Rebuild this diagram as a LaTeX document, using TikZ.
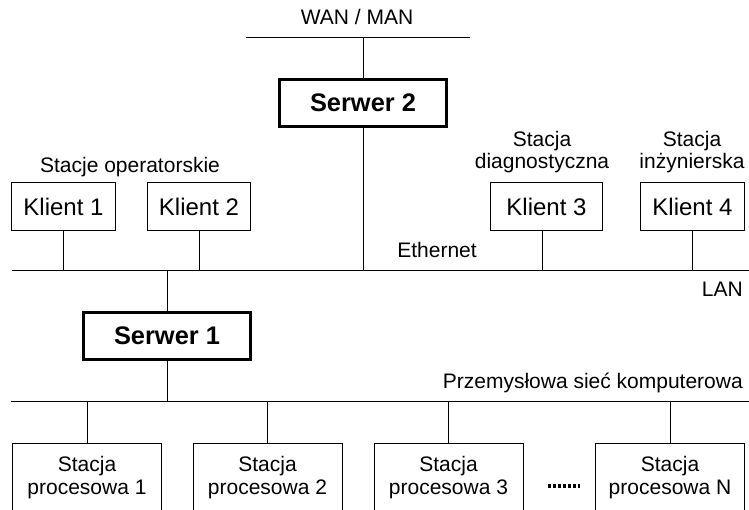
\documentclass[tikz,border=0pt]{standalone}
\usepackage{fontspec}
\setmainfont{Liberation Sans}
\begin{document}
\begin{tikzpicture}[x=1pt,y=-1pt,
  wire/.style={line width=1pt},
  srv/.style={draw, line width=2.8pt, minimum width=167pt, minimum height=47pt, inner sep=0pt, font=\fontsize{25.4}{28}\selectfont\bfseries},
  kl/.style={draw, line width=1pt, minimum height=48pt, inner sep=0pt, font=\fontsize{24}{28}\selectfont},
  proc/.style={draw, line width=1pt, minimum width=149pt, minimum height=69pt, inner sep=0pt, align=center, font=\fontsize{21}{23}\selectfont},
  lbl/.style={inner sep=0pt, font=\fontsize{21}{22}\selectfont},
  dotline/.style={line width=3.5pt, dash pattern=on 3pt off 2pt},
]
\clip (0,0) rectangle (749,510);

% WAN
\coordinate (wanL) at (246,38);
\coordinate (wanR) at (470,38);
\draw[wire] (wanL) -- (wanR);
\node[lbl, anchor=base] (wan) at (357,25) {WAN / MAN};

% Serwer 2
\node[srv] (s2) at (363,103) {Serwer 2};

% LAN bus
\coordinate (lanL) at (12,271);
\coordinate (lanR) at (749,271);
\draw[wire] (lanL) -- (lanR);
\draw[wire] (s2.north) -- (s2.north |- wanL);
\draw[wire] (s2.south) -- (s2.south |- lanL);

% Klienci
\node[kl, minimum width=104pt] (k1) at (63.5,206.5) {Klient 1};
\node[kl, minimum width=103pt] (k2) at (199,206.5) {Klient 2};
\node[kl, minimum width=112pt] (k3) at (546.5,206.5) {Klient 3};
\node[kl, minimum width=104pt] (k4) at (692.5,206.5) {Klient 4};

\coordinate (t1) at (63,271);
\coordinate (t2) at (199,271);
\coordinate (t3) at (542,271);
\coordinate (t4) at (692,271);
\draw[wire] (t1) -- (t1 |- k1.south);
\draw[wire] (t2) -- (t2 |- k2.south);
\draw[wire] (t3) -- (t3 |- k3.south);
\draw[wire] (t4) -- (t4 |- k4.south);

\node[lbl, anchor=base] (op) at (130,173) {Stacje operatorskie};
\node[lbl, anchor=base] (diagA) at (542,147) {Stacja};
\node[lbl, anchor=base] (diagB) at (542,168.5) {diagnostyczna};
\node[lbl, anchor=base] (inzA) at (692,147) {Stacja};
\node[lbl, anchor=base] (inzB) at (692,168.5) {inżynierska};
\node[lbl, anchor=base] (eth) at (437,258) {Ethernet};
\node[lbl, anchor=base east] (lan) at (743,297) {LAN};

% Serwer 1
\node[srv] (s1) at (167,336) {Serwer 1};

% industrial bus
\coordinate (indL) at (11,401);
\coordinate (indR) at (749,401);
\draw[wire] (indL) -- (indR);
\draw[wire] (s1.north) -- (s1.north |- lanL);
\draw[wire] (s1.south) -- (s1.south |- indL);
\node[lbl, anchor=base east] (ind) at (743,388) {Przemysłowa sieć komputerowa};

% stacje procesowe
\node[proc] (p1) at (87,477.5) {Stacja\\procesowa 1};
\node[proc] (p2) at (267.5,477.5) {Stacja\\procesowa 2};
\node[proc] (p3) at (448.5,477.5) {Stacja\\procesowa 3};
\node[proc] (pn) at (670,477.5) {Stacja\\procesowa N};
\draw[wire] (p1.north) -- (p1.north |- indL);
\draw[wire] (p2.north) -- (p2.north |- indL);
\draw[wire] (p3.north) -- (p3.north |- indL);
\draw[wire] (pn.north) -- (pn.north |- indL);

\coordinate (dotsL) at (548,486);
\coordinate (dotsR) at (580,486);
\draw[dotline] (dotsL) -- (dotsR);
\end{tikzpicture}
\end{document}
